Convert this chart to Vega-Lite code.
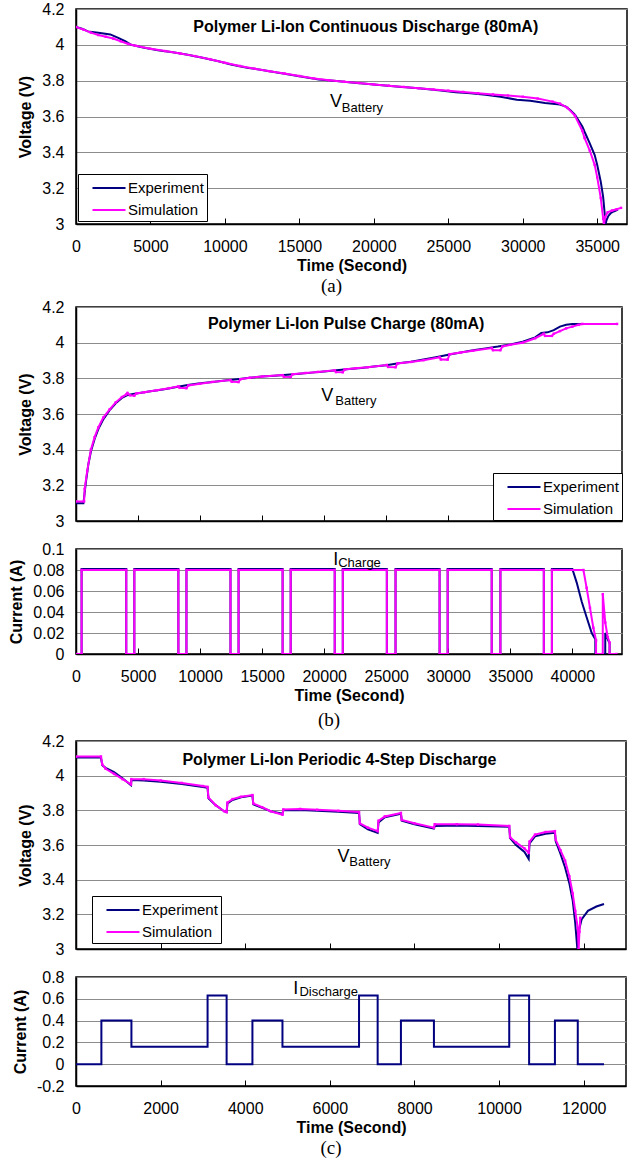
{
  "$schema": "https://vega.github.io/schema/vega-lite/v6.json",
  "padding": {"left": 8, "top": 0, "right": 4, "bottom": 0},
  "background": "white",
  "datasets": {
    "a": [
      {"t":0,"v":4.10,"s":"Experiment"},{"t":400,"v":4.09,"s":"Experiment"},{"t":800,"v":4.075,"s":"Experiment"},{"t":1500,"v":4.068,"s":"Experiment"},{"t":2300,"v":4.058,"s":"Experiment"},{"t":2800,"v":4.04,"s":"Experiment"},{"t":3300,"v":4.02,"s":"Experiment"},{"t":3700,"v":4.0,"s":"Experiment"},{"t":4500,"v":3.985,"s":"Experiment"},{"t":5500,"v":3.97,"s":"Experiment"},{"t":6500,"v":3.958,"s":"Experiment"},{"t":7500,"v":3.945,"s":"Experiment"},{"t":8500,"v":3.928,"s":"Experiment"},{"t":9500,"v":3.91,"s":"Experiment"},{"t":10400,"v":3.89,"s":"Experiment"},{"t":11500,"v":3.872,"s":"Experiment"},{"t":12500,"v":3.86,"s":"Experiment"},{"t":13500,"v":3.845,"s":"Experiment"},{"t":14500,"v":3.832,"s":"Experiment"},{"t":15500,"v":3.818,"s":"Experiment"},{"t":16300,"v":3.806,"s":"Experiment"},{"t":17500,"v":3.798,"s":"Experiment"},{"t":18500,"v":3.79,"s":"Experiment"},{"t":20000,"v":3.778,"s":"Experiment"},{"t":21500,"v":3.768,"s":"Experiment"},{"t":23000,"v":3.757,"s":"Experiment"},{"t":24500,"v":3.745,"s":"Experiment"},{"t":25500,"v":3.735,"s":"Experiment"},{"t":26500,"v":3.73,"s":"Experiment"},{"t":27500,"v":3.722,"s":"Experiment"},{"t":28500,"v":3.71,"s":"Experiment"},{"t":29600,"v":3.694,"s":"Experiment"},{"t":30500,"v":3.688,"s":"Experiment"},{"t":31500,"v":3.675,"s":"Experiment"},{"t":32500,"v":3.667,"s":"Experiment"},{"t":32900,"v":3.655,"s":"Experiment"},{"t":33200,"v":3.635,"s":"Experiment"},{"t":33500,"v":3.61,"s":"Experiment"},{"t":34000,"v":3.545,"s":"Experiment"},{"t":34150,"v":3.515,"s":"Experiment"},{"t":34500,"v":3.45,"s":"Experiment"},{"t":34830,"v":3.385,"s":"Experiment"},{"t":35000,"v":3.33,"s":"Experiment"},{"t":35240,"v":3.235,"s":"Experiment"},{"t":35400,"v":3.15,"s":"Experiment"},{"t":35500,"v":3.06,"s":"Experiment"},{"t":35560,"v":3.0,"s":"Experiment"},{"t":35620,"v":3.02,"s":"Experiment"},{"t":35750,"v":3.045,"s":"Experiment"},{"t":35900,"v":3.06,"s":"Experiment"},{"t":36100,"v":3.07,"s":"Experiment"},{"t":36400,"v":3.08,"s":"Experiment"},
      {"t":0,"v":4.10,"s":"Simulation"},{"t":500,"v":4.085,"s":"Simulation"},{"t":1000,"v":4.068,"s":"Simulation"},{"t":1500,"v":4.055,"s":"Simulation"},{"t":2000,"v":4.045,"s":"Simulation"},{"t":2500,"v":4.035,"s":"Simulation"},{"t":3000,"v":4.02,"s":"Simulation"},{"t":3500,"v":4.005,"s":"Simulation"},{"t":4000,"v":3.995,"s":"Simulation"},{"t":5000,"v":3.978,"s":"Simulation"},{"t":6000,"v":3.965,"s":"Simulation"},{"t":7000,"v":3.952,"s":"Simulation"},{"t":8000,"v":3.937,"s":"Simulation"},{"t":9000,"v":3.92,"s":"Simulation"},{"t":10000,"v":3.9,"s":"Simulation"},{"t":11000,"v":3.882,"s":"Simulation"},{"t":12000,"v":3.867,"s":"Simulation"},{"t":13000,"v":3.853,"s":"Simulation"},{"t":14000,"v":3.84,"s":"Simulation"},{"t":15000,"v":3.826,"s":"Simulation"},{"t":16000,"v":3.812,"s":"Simulation"},{"t":17000,"v":3.802,"s":"Simulation"},{"t":18000,"v":3.794,"s":"Simulation"},{"t":19000,"v":3.787,"s":"Simulation"},{"t":20000,"v":3.779,"s":"Simulation"},{"t":21000,"v":3.772,"s":"Simulation"},{"t":22000,"v":3.765,"s":"Simulation"},{"t":23000,"v":3.758,"s":"Simulation"},{"t":24000,"v":3.751,"s":"Simulation"},{"t":25000,"v":3.744,"s":"Simulation"},{"t":26000,"v":3.737,"s":"Simulation"},{"t":27000,"v":3.73,"s":"Simulation"},{"t":28000,"v":3.723,"s":"Simulation"},{"t":29000,"v":3.717,"s":"Simulation"},{"t":30000,"v":3.71,"s":"Simulation"},{"t":31000,"v":3.7,"s":"Simulation"},{"t":32000,"v":3.683,"s":"Simulation"},{"t":32500,"v":3.672,"s":"Simulation"},{"t":33000,"v":3.648,"s":"Simulation"},{"t":33500,"v":3.605,"s":"Simulation"},{"t":34000,"v":3.52,"s":"Simulation"},{"t":34150,"v":3.48,"s":"Simulation"},{"t":34500,"v":3.41,"s":"Simulation"},{"t":34830,"v":3.33,"s":"Simulation"},{"t":35000,"v":3.26,"s":"Simulation"},{"t":35240,"v":3.145,"s":"Simulation"},{"t":35400,"v":3.03,"s":"Simulation"},{"t":35450,"v":3.0,"s":"Simulation"},{"t":35550,"v":3.04,"s":"Simulation"},{"t":35700,"v":3.065,"s":"Simulation"},{"t":36000,"v":3.075,"s":"Simulation"},{"t":36300,"v":3.082,"s":"Simulation"},{"t":36600,"v":3.09,"s":"Simulation"}
    ],
    "bv": [
      {"t":0,"v":3.10,"s":"Experiment"},{"t":600,"v":3.10,"s":"Experiment"},{"t":650,"v":3.13,"s":"Experiment"},{"t":800,"v":3.22,"s":"Experiment"},{"t":1000,"v":3.32,"s":"Experiment"},{"t":1200,"v":3.39,"s":"Experiment"},{"t":1500,"v":3.46,"s":"Experiment"},{"t":1800,"v":3.515,"s":"Experiment"},{"t":2200,"v":3.57,"s":"Experiment"},{"t":2700,"v":3.62,"s":"Experiment"},{"t":3200,"v":3.66,"s":"Experiment"},{"t":3700,"v":3.69,"s":"Experiment"},{"t":4100,"v":3.705,"s":"Experiment"},{"t":4600,"v":3.712,"s":"Experiment"},{"t":5000,"v":3.716,"s":"Experiment"},{"t":6000,"v":3.727,"s":"Experiment"},{"t":7000,"v":3.738,"s":"Experiment"},{"t":8000,"v":3.75,"s":"Experiment"},{"t":9000,"v":3.762,"s":"Experiment"},{"t":10000,"v":3.772,"s":"Experiment"},{"t":11000,"v":3.78,"s":"Experiment"},{"t":12000,"v":3.788,"s":"Experiment"},{"t":13000,"v":3.795,"s":"Experiment"},{"t":14000,"v":3.803,"s":"Experiment"},{"t":15000,"v":3.81,"s":"Experiment"},{"t":16000,"v":3.815,"s":"Experiment"},{"t":17000,"v":3.82,"s":"Experiment"},{"t":18000,"v":3.826,"s":"Experiment"},{"t":19000,"v":3.832,"s":"Experiment"},{"t":20000,"v":3.838,"s":"Experiment"},{"t":21000,"v":3.845,"s":"Experiment"},{"t":22000,"v":3.852,"s":"Experiment"},{"t":23000,"v":3.858,"s":"Experiment"},{"t":24000,"v":3.866,"s":"Experiment"},{"t":25000,"v":3.874,"s":"Experiment"},{"t":26000,"v":3.884,"s":"Experiment"},{"t":27000,"v":3.893,"s":"Experiment"},{"t":28000,"v":3.905,"s":"Experiment"},{"t":29000,"v":3.918,"s":"Experiment"},{"t":30000,"v":3.932,"s":"Experiment"},{"t":31000,"v":3.945,"s":"Experiment"},{"t":32000,"v":3.957,"s":"Experiment"},{"t":33000,"v":3.968,"s":"Experiment"},{"t":34000,"v":3.978,"s":"Experiment"},{"t":35000,"v":3.99,"s":"Experiment"},{"t":36000,"v":4.005,"s":"Experiment"},{"t":37000,"v":4.03,"s":"Experiment"},{"t":37500,"v":4.055,"s":"Experiment"},{"t":38000,"v":4.058,"s":"Experiment"},{"t":38500,"v":4.07,"s":"Experiment"},{"t":39000,"v":4.09,"s":"Experiment"},{"t":39500,"v":4.10,"s":"Experiment"},{"t":40000,"v":4.105,"s":"Experiment"},{"t":43600,"v":4.105,"s":"Experiment"},
      {"t":0,"v":3.11,"s":"Simulation"},{"t":650,"v":3.11,"s":"Simulation"},{"t":700,"v":3.18,"s":"Simulation"},{"t":900,"v":3.28,"s":"Simulation"},{"t":1200,"v":3.40,"s":"Simulation"},{"t":1500,"v":3.47,"s":"Simulation"},{"t":1800,"v":3.525,"s":"Simulation"},{"t":2200,"v":3.58,"s":"Simulation"},{"t":2700,"v":3.625,"s":"Simulation"},{"t":3200,"v":3.665,"s":"Simulation"},{"t":3700,"v":3.695,"s":"Simulation"},{"t":4050,"v":3.71,"s":"Simulation"},{"t":4150,"v":3.718,"s":"Simulation"},{"t":4350,"v":3.705,"s":"Simulation"},{"t":4700,"v":3.703,"s":"Simulation"},{"t":4850,"v":3.715,"s":"Simulation"},{"t":5500,"v":3.722,"s":"Simulation"},{"t":6500,"v":3.733,"s":"Simulation"},{"t":7500,"v":3.745,"s":"Simulation"},{"t":8250,"v":3.755,"s":"Simulation"},{"t":8350,"v":3.747,"s":"Simulation"},{"t":8900,"v":3.745,"s":"Simulation"},{"t":9050,"v":3.76,"s":"Simulation"},{"t":10000,"v":3.77,"s":"Simulation"},{"t":11000,"v":3.78,"s":"Simulation"},{"t":12450,"v":3.79,"s":"Simulation"},{"t":12550,"v":3.781,"s":"Simulation"},{"t":13100,"v":3.779,"s":"Simulation"},{"t":13250,"v":3.795,"s":"Simulation"},{"t":14000,"v":3.803,"s":"Simulation"},{"t":15000,"v":3.81,"s":"Simulation"},{"t":16650,"v":3.818,"s":"Simulation"},{"t":16750,"v":3.809,"s":"Simulation"},{"t":17300,"v":3.808,"s":"Simulation"},{"t":17450,"v":3.823,"s":"Simulation"},{"t":18500,"v":3.83,"s":"Simulation"},{"t":19500,"v":3.836,"s":"Simulation"},{"t":20850,"v":3.845,"s":"Simulation"},{"t":20950,"v":3.835,"s":"Simulation"},{"t":21500,"v":3.834,"s":"Simulation"},{"t":21650,"v":3.85,"s":"Simulation"},{"t":22500,"v":3.856,"s":"Simulation"},{"t":23500,"v":3.862,"s":"Simulation"},{"t":25050,"v":3.875,"s":"Simulation"},{"t":25150,"v":3.864,"s":"Simulation"},{"t":25750,"v":3.862,"s":"Simulation"},{"t":25900,"v":3.883,"s":"Simulation"},{"t":27000,"v":3.892,"s":"Simulation"},{"t":28000,"v":3.902,"s":"Simulation"},{"t":29300,"v":3.918,"s":"Simulation"},{"t":29400,"v":3.906,"s":"Simulation"},{"t":29950,"v":3.905,"s":"Simulation"},{"t":30100,"v":3.935,"s":"Simulation"},{"t":31000,"v":3.945,"s":"Simulation"},{"t":32000,"v":3.955,"s":"Simulation"},{"t":33500,"v":3.97,"s":"Simulation"},{"t":33600,"v":3.958,"s":"Simulation"},{"t":34200,"v":3.958,"s":"Simulation"},{"t":34350,"v":3.978,"s":"Simulation"},{"t":35000,"v":3.988,"s":"Simulation"},{"t":36000,"v":4.0,"s":"Simulation"},{"t":37000,"v":4.025,"s":"Simulation"},{"t":37700,"v":4.05,"s":"Simulation"},{"t":37800,"v":4.038,"s":"Simulation"},{"t":38350,"v":4.038,"s":"Simulation"},{"t":38500,"v":4.05,"s":"Simulation"},{"t":39000,"v":4.065,"s":"Simulation"},{"t":39500,"v":4.08,"s":"Simulation"},{"t":40000,"v":4.09,"s":"Simulation"},{"t":40500,"v":4.1,"s":"Simulation"},{"t":40800,"v":4.105,"s":"Simulation"},{"t":43600,"v":4.105,"s":"Simulation"}
    ],
    "bc": [
      {"t":0,"v":0,"s":"Experiment"},{"t":450,"v":0,"s":"Experiment"},{"t":451,"v":0.081,"s":"Experiment"},{"t":4050,"v":0.081,"s":"Experiment"},{"t":4051,"v":0,"s":"Experiment"},{"t":4700,"v":0,"s":"Experiment"},{"t":4701,"v":0.081,"s":"Experiment"},{"t":8250,"v":0.081,"s":"Experiment"},{"t":8251,"v":0,"s":"Experiment"},{"t":8900,"v":0,"s":"Experiment"},{"t":8901,"v":0.081,"s":"Experiment"},{"t":12450,"v":0.081,"s":"Experiment"},{"t":12451,"v":0,"s":"Experiment"},{"t":13100,"v":0,"s":"Experiment"},{"t":13101,"v":0.081,"s":"Experiment"},{"t":16650,"v":0.081,"s":"Experiment"},{"t":16651,"v":0,"s":"Experiment"},{"t":17300,"v":0,"s":"Experiment"},{"t":17301,"v":0.081,"s":"Experiment"},{"t":20850,"v":0.081,"s":"Experiment"},{"t":20851,"v":0,"s":"Experiment"},{"t":21500,"v":0,"s":"Experiment"},{"t":21501,"v":0.081,"s":"Experiment"},{"t":25050,"v":0.081,"s":"Experiment"},{"t":25051,"v":0,"s":"Experiment"},{"t":25750,"v":0,"s":"Experiment"},{"t":25751,"v":0.081,"s":"Experiment"},{"t":29300,"v":0.081,"s":"Experiment"},{"t":29301,"v":0,"s":"Experiment"},{"t":29950,"v":0,"s":"Experiment"},{"t":29951,"v":0.081,"s":"Experiment"},{"t":33500,"v":0.081,"s":"Experiment"},{"t":33501,"v":0,"s":"Experiment"},{"t":34200,"v":0,"s":"Experiment"},{"t":34201,"v":0.081,"s":"Experiment"},{"t":37700,"v":0.081,"s":"Experiment"},{"t":37701,"v":0,"s":"Experiment"},{"t":38350,"v":0,"s":"Experiment"},{"t":38351,"v":0.081,"s":"Experiment"},{"t":40000,"v":0.081,"s":"Experiment"},{"t":40350,"v":0.068,"s":"Experiment"},{"t":40750,"v":0.05,"s":"Experiment"},{"t":41150,"v":0.035,"s":"Experiment"},{"t":41560,"v":0.02,"s":"Experiment"},{"t":41850,"v":0.014,"s":"Experiment"},{"t":41851,"v":0,"s":"Experiment"},{"t":42650,"v":0,"s":"Experiment"},{"t":42651,"v":0.02,"s":"Experiment"},{"t":43000,"v":0.01,"s":"Experiment"},{"t":43001,"v":0,"s":"Experiment"},{"t":43550,"v":0,"s":"Experiment"},
      {"t":0,"v":0,"s":"Simulation"},{"t":450,"v":0,"s":"Simulation"},{"t":451,"v":0.08,"s":"Simulation"},{"t":4050,"v":0.08,"s":"Simulation"},{"t":4051,"v":0,"s":"Simulation"},{"t":4700,"v":0,"s":"Simulation"},{"t":4701,"v":0.08,"s":"Simulation"},{"t":8250,"v":0.08,"s":"Simulation"},{"t":8251,"v":0,"s":"Simulation"},{"t":8900,"v":0,"s":"Simulation"},{"t":8901,"v":0.08,"s":"Simulation"},{"t":12450,"v":0.08,"s":"Simulation"},{"t":12451,"v":0,"s":"Simulation"},{"t":13100,"v":0,"s":"Simulation"},{"t":13101,"v":0.08,"s":"Simulation"},{"t":16650,"v":0.08,"s":"Simulation"},{"t":16651,"v":0,"s":"Simulation"},{"t":17300,"v":0,"s":"Simulation"},{"t":17301,"v":0.08,"s":"Simulation"},{"t":20850,"v":0.08,"s":"Simulation"},{"t":20851,"v":0,"s":"Simulation"},{"t":21500,"v":0,"s":"Simulation"},{"t":21501,"v":0.08,"s":"Simulation"},{"t":25050,"v":0.08,"s":"Simulation"},{"t":25051,"v":0,"s":"Simulation"},{"t":25750,"v":0,"s":"Simulation"},{"t":25751,"v":0.08,"s":"Simulation"},{"t":29300,"v":0.08,"s":"Simulation"},{"t":29301,"v":0,"s":"Simulation"},{"t":29950,"v":0,"s":"Simulation"},{"t":29951,"v":0.08,"s":"Simulation"},{"t":33500,"v":0.08,"s":"Simulation"},{"t":33501,"v":0,"s":"Simulation"},{"t":34200,"v":0,"s":"Simulation"},{"t":34201,"v":0.08,"s":"Simulation"},{"t":37700,"v":0.08,"s":"Simulation"},{"t":37701,"v":0,"s":"Simulation"},{"t":38350,"v":0,"s":"Simulation"},{"t":38351,"v":0.08,"s":"Simulation"},{"t":40890,"v":0.08,"s":"Simulation"},{"t":41150,"v":0.063,"s":"Simulation"},{"t":41420,"v":0.044,"s":"Simulation"},{"t":41690,"v":0.025,"s":"Simulation"},{"t":41910,"v":0.013,"s":"Simulation"},{"t":41911,"v":0,"s":"Simulation"},{"t":42450,"v":0,"s":"Simulation"},{"t":42451,"v":0.057,"s":"Simulation"},{"t":42650,"v":0.03,"s":"Simulation"},{"t":42850,"v":0.016,"s":"Simulation"},{"t":43000,"v":0.011,"s":"Simulation"},{"t":43001,"v":0,"s":"Simulation"},{"t":43550,"v":0,"s":"Simulation"}
    ],
    "cv": [
      {"t":0,"v":4.105,"s":"Experiment"},{"t":590,"v":4.105,"s":"Experiment"},{"t":620,"v":4.06,"s":"Experiment"},{"t":700,"v":4.045,"s":"Experiment"},{"t":900,"v":4.02,"s":"Experiment"},{"t":1100,"v":3.985,"s":"Experiment"},{"t":1300,"v":3.945,"s":"Experiment"},{"t":1310,"v":3.975,"s":"Experiment"},{"t":1600,"v":3.972,"s":"Experiment"},{"t":2000,"v":3.965,"s":"Experiment"},{"t":2500,"v":3.952,"s":"Experiment"},{"t":3000,"v":3.935,"s":"Experiment"},{"t":3110,"v":3.93,"s":"Experiment"},{"t":3130,"v":3.87,"s":"Experiment"},{"t":3300,"v":3.83,"s":"Experiment"},{"t":3500,"v":3.795,"s":"Experiment"},{"t":3560,"v":3.79,"s":"Experiment"},{"t":3580,"v":3.84,"s":"Experiment"},{"t":3700,"v":3.86,"s":"Experiment"},{"t":3900,"v":3.875,"s":"Experiment"},{"t":4170,"v":3.885,"s":"Experiment"},{"t":4190,"v":3.835,"s":"Experiment"},{"t":4400,"v":3.815,"s":"Experiment"},{"t":4600,"v":3.795,"s":"Experiment"},{"t":4880,"v":3.78,"s":"Experiment"},{"t":4900,"v":3.80,"s":"Experiment"},{"t":5300,"v":3.802,"s":"Experiment"},{"t":5700,"v":3.798,"s":"Experiment"},{"t":6200,"v":3.792,"s":"Experiment"},{"t":6690,"v":3.785,"s":"Experiment"},{"t":6710,"v":3.72,"s":"Experiment"},{"t":6900,"v":3.69,"s":"Experiment"},{"t":7130,"v":3.67,"s":"Experiment"},{"t":7150,"v":3.73,"s":"Experiment"},{"t":7300,"v":3.76,"s":"Experiment"},{"t":7680,"v":3.78,"s":"Experiment"},{"t":7700,"v":3.74,"s":"Experiment"},{"t":8000,"v":3.72,"s":"Experiment"},{"t":8460,"v":3.695,"s":"Experiment"},{"t":8480,"v":3.71,"s":"Experiment"},{"t":9000,"v":3.712,"s":"Experiment"},{"t":9500,"v":3.71,"s":"Experiment"},{"t":10240,"v":3.705,"s":"Experiment"},{"t":10260,"v":3.64,"s":"Experiment"},{"t":10400,"v":3.6,"s":"Experiment"},{"t":10600,"v":3.56,"s":"Experiment"},{"t":10700,"v":3.52,"s":"Experiment"},{"t":10720,"v":3.61,"s":"Experiment"},{"t":10850,"v":3.65,"s":"Experiment"},{"t":11100,"v":3.665,"s":"Experiment"},{"t":11320,"v":3.67,"s":"Experiment"},{"t":11340,"v":3.62,"s":"Experiment"},{"t":11450,"v":3.55,"s":"Experiment"},{"t":11560,"v":3.47,"s":"Experiment"},{"t":11660,"v":3.38,"s":"Experiment"},{"t":11740,"v":3.28,"s":"Experiment"},{"t":11800,"v":3.15,"s":"Experiment"},{"t":11850,"v":3.0,"s":"Experiment"},{"t":11880,"v":3.1,"s":"Experiment"},{"t":11950,"v":3.17,"s":"Experiment"},{"t":12100,"v":3.22,"s":"Experiment"},{"t":12300,"v":3.245,"s":"Experiment"},{"t":12480,"v":3.26,"s":"Experiment"},
      {"t":0,"v":4.11,"s":"Simulation"},{"t":590,"v":4.11,"s":"Simulation"},{"t":620,"v":4.065,"s":"Simulation"},{"t":700,"v":4.04,"s":"Simulation"},{"t":900,"v":4.01,"s":"Simulation"},{"t":1100,"v":3.98,"s":"Simulation"},{"t":1300,"v":3.95,"s":"Simulation"},{"t":1310,"v":3.98,"s":"Simulation"},{"t":1600,"v":3.98,"s":"Simulation"},{"t":2000,"v":3.972,"s":"Simulation"},{"t":2500,"v":3.958,"s":"Simulation"},{"t":3000,"v":3.94,"s":"Simulation"},{"t":3110,"v":3.935,"s":"Simulation"},{"t":3130,"v":3.875,"s":"Simulation"},{"t":3300,"v":3.83,"s":"Simulation"},{"t":3500,"v":3.795,"s":"Simulation"},{"t":3560,"v":3.79,"s":"Simulation"},{"t":3580,"v":3.845,"s":"Simulation"},{"t":3700,"v":3.865,"s":"Simulation"},{"t":3900,"v":3.878,"s":"Simulation"},{"t":4170,"v":3.888,"s":"Simulation"},{"t":4190,"v":3.84,"s":"Simulation"},{"t":4400,"v":3.818,"s":"Simulation"},{"t":4600,"v":3.795,"s":"Simulation"},{"t":4880,"v":3.775,"s":"Simulation"},{"t":4900,"v":3.805,"s":"Simulation"},{"t":5300,"v":3.808,"s":"Simulation"},{"t":5700,"v":3.803,"s":"Simulation"},{"t":6200,"v":3.797,"s":"Simulation"},{"t":6690,"v":3.79,"s":"Simulation"},{"t":6710,"v":3.725,"s":"Simulation"},{"t":6900,"v":3.7,"s":"Simulation"},{"t":7130,"v":3.68,"s":"Simulation"},{"t":7150,"v":3.74,"s":"Simulation"},{"t":7300,"v":3.765,"s":"Simulation"},{"t":7680,"v":3.785,"s":"Simulation"},{"t":7700,"v":3.745,"s":"Simulation"},{"t":8000,"v":3.725,"s":"Simulation"},{"t":8460,"v":3.7,"s":"Simulation"},{"t":8480,"v":3.72,"s":"Simulation"},{"t":9000,"v":3.72,"s":"Simulation"},{"t":9500,"v":3.718,"s":"Simulation"},{"t":10240,"v":3.71,"s":"Simulation"},{"t":10260,"v":3.645,"s":"Simulation"},{"t":10400,"v":3.615,"s":"Simulation"},{"t":10600,"v":3.58,"s":"Simulation"},{"t":10700,"v":3.555,"s":"Simulation"},{"t":10720,"v":3.62,"s":"Simulation"},{"t":10850,"v":3.66,"s":"Simulation"},{"t":11100,"v":3.675,"s":"Simulation"},{"t":11320,"v":3.68,"s":"Simulation"},{"t":11340,"v":3.63,"s":"Simulation"},{"t":11450,"v":3.57,"s":"Simulation"},{"t":11560,"v":3.51,"s":"Simulation"},{"t":11660,"v":3.42,"s":"Simulation"},{"t":11740,"v":3.32,"s":"Simulation"},{"t":11800,"v":3.22,"s":"Simulation"},{"t":11860,"v":3.12,"s":"Simulation"},{"t":11880,"v":3.0,"s":"Simulation"},{"t":11900,"v":3.1,"s":"Simulation"},{"t":11920,"v":3.18,"s":"Simulation"}
    ],
    "cc": [
      {"t":0,"v":0},{"t":600,"v":0.4},{"t":1310,"v":0.16},{"t":3110,"v":0.63},{"t":3560,"v":0},{"t":4170,"v":0.4},{"t":4880,"v":0.16},{"t":6690,"v":0.63},{"t":7130,"v":0},{"t":7680,"v":0.4},{"t":8460,"v":0.16},{"t":10240,"v":0.63},{"t":10710,"v":0},{"t":11320,"v":0.4},{"t":11860,"v":0},{"t":12480,"v":0}
    ]
  },
  "config": {
    "font": "Liberation Sans",
    "view": {"stroke": "black", "strokeWidth": 1.5},
    "axis": {"labelFont": "Liberation Sans", "labelFontSize": 16, "labelColor": "black", "titleFont": "Liberation Sans", "titleFontSize": 16, "titleFontWeight": "bold", "titleColor": "black", "domainColor": "black", "domainWidth": 1.5, "tickColor": "black", "gridColor": "#8c8c8c", "gridWidth": 1.2},
    "axisX": {"grid": false, "ticks": true, "tickSize": -6, "tickWidth": 1, "labelPadding": 20, "titlePadding": 3, "labelFlush": false},
    "axisY": {"grid": true, "ticks": false, "labelPadding": 12, "titlePadding": 8},
    "legend": {"labelFont": "Liberation Sans", "labelFontSize": 15, "labelColor": "black", "symbolType": "M-1.65,0H1.65", "symbolSize": 400, "symbolStrokeWidth": 2, "strokeColor": "black", "fillColor": "white", "padding": 3, "rowPadding": 3, "symbolOffset": 17, "labelOffset": 8},
    "title": {"font": "Liberation Serif", "fontSize": 19, "fontWeight": "normal", "color": "black", "orient": "bottom", "anchor": "middle", "frame": "group", "offset": 4, "dx": -20}
  },
  "spacing": 1,
  "resolve": {"scale": {"x": "independent", "y": "independent", "color": "independent"}, "legend": {"color": "independent"}},
  "vconcat": [
    {
      "width": 551, "height": 215,
      "title": {"text": "(a)"},
      "encoding": {
        "x": {"field": "t", "type": "quantitative", "scale": {"domain": [0, 37000], "nice": false, "zero": false}, "axis": {"values": [0,5000,10000,15000,20000,25000,30000,35000], "format": "d", "title": "Time (Second)"}},
        "y": {"field": "v", "type": "quantitative", "scale": {"domain": [3, 4.2], "nice": false, "zero": false}, "axis": {"values": [3,3.2,3.4,3.6,3.8,4,4.2], "format": "~g", "title": "Voltage (V)"}}
      },
      "layer": [
        {"data": {"name": "a"}, "mark": {"type": "line", "strokeWidth": 2, "clip": true},
         "encoding": {"color": {"field": "s", "type": "nominal", "scale": {"domain": ["Experiment", "Simulation"], "range": ["#000080", "#ff00ff"]}, "legend": {"title": null, "orient": "none", "legendX": 2, "legendY": 165}}}},
        {"data": {"name": "a"}, "transform": [{"filter": "datum.s === 'Simulation'"}], "mark": {"type": "point", "shape": "square", "size": 6, "filled": true, "color": "#ff00ff", "opacity": 1, "clip": true}},
        {"data": {"values": [{"t": 19460, "v": 4.10, "label": "Polymer Li-Ion Continuous Discharge (80mA)"}]}, "mark": {"type": "text", "fontSize": 16, "fontWeight": "bold", "align": "center", "baseline": "middle", "color": "black"}, "encoding": {"text": {"field": "label"}}},
        {"data": {"values": [{"t": 17050, "v": 3.68, "label": "V"}]}, "mark": {"type": "text", "fontSize": 18, "align": "left", "baseline": "middle", "color": "black"}, "encoding": {"text": {"field": "label"}}},
        {"data": {"values": [{"t": 17850, "v": 3.645, "label": "Battery"}]}, "mark": {"type": "text", "fontSize": 13, "align": "left", "baseline": "middle", "color": "black"}, "encoding": {"text": {"field": "label"}}}
      ]
    },
    {
      "spacing": 10,
      "resolve": {"scale": {"x": "independent", "y": "independent", "color": "independent"}, "legend": {"color": "independent"}},
      "vconcat": [
        {
          "width": 546, "height": 214,
          "encoding": {
            "x": {"field": "t", "type": "quantitative", "scale": {"domain": [0, 44000], "nice": false, "zero": false}, "axis": {"values": [0,5000,10000,15000,20000,25000,30000,35000,40000], "labels": false, "title": null}},
            "y": {"field": "v", "type": "quantitative", "scale": {"domain": [3, 4.2], "nice": false, "zero": false}, "axis": {"values": [3,3.2,3.4,3.6,3.8,4,4.2], "format": "~g", "title": "Voltage (V)"}}
          },
          "layer": [
            {"data": {"name": "bv"}, "mark": {"type": "line", "strokeWidth": 2, "clip": true},
             "encoding": {"color": {"field": "s", "type": "nominal", "scale": {"domain": ["Experiment", "Simulation"], "range": ["#000080", "#ff00ff"]}, "legend": {"title": null, "orient": "none", "legendX": 417, "legendY": 166}}}},
            {"data": {"name": "bv"}, "transform": [{"filter": "datum.s === 'Simulation'"}], "mark": {"type": "point", "shape": "square", "size": 6, "filled": true, "color": "#ff00ff", "opacity": 1, "clip": true}},
            {"data": {"values": [{"t": 21770, "v": 4.105, "label": "Polymer Li-Ion Pulse Charge (80mA)"}]}, "mark": {"type": "text", "fontSize": 16, "fontWeight": "bold", "align": "center", "baseline": "middle", "color": "black"}, "encoding": {"text": {"field": "label"}}},
            {"data": {"values": [{"t": 19760, "v": 3.70, "label": "V"}]}, "mark": {"type": "text", "fontSize": 18, "align": "left", "baseline": "middle", "color": "black"}, "encoding": {"text": {"field": "label"}}},
            {"data": {"values": [{"t": 20890, "v": 3.675, "label": "Battery"}]}, "mark": {"type": "text", "fontSize": 13, "align": "left", "baseline": "middle", "color": "black"}, "encoding": {"text": {"field": "label"}}}
          ]
        },
        {
          "width": 546, "height": 105,
          "title": {"text": "(b)", "offset": 8},
          "encoding": {
            "x": {"field": "t", "type": "quantitative", "scale": {"domain": [0, 44000], "nice": false, "zero": false}, "axis": {"values": [0,5000,10000,15000,20000,25000,30000,35000,40000], "format": "d", "title": "Time (Second)"}},
            "y": {"field": "v", "type": "quantitative", "scale": {"domain": [0, 0.1], "nice": false, "zero": false}, "axis": {"values": [0,0.02,0.04,0.06,0.08,0.1], "format": "~g", "title": "Current (A)"}}
          },
          "layer": [
            {"data": {"name": "bc"}, "mark": {"type": "line", "strokeWidth": 2, "clip": true},
             "encoding": {"color": {"field": "s", "type": "nominal", "scale": {"domain": ["Experiment", "Simulation"], "range": ["#000080", "#ff00ff"]}, "legend": null}}},
            {"data": {"name": "bc"}, "transform": [{"filter": "datum.s === 'Simulation'"}], "mark": {"type": "point", "shape": "square", "size": 6, "filled": true, "color": "#ff00ff", "opacity": 1, "clip": true}},
            {"data": {"values": [{"t": 20730, "v": 0.0895, "label": "I"}]}, "mark": {"type": "text", "fontSize": 18, "align": "left", "baseline": "middle", "color": "black"}, "encoding": {"text": {"field": "label"}}},
            {"data": {"values": [{"t": 21130, "v": 0.0867, "label": "Charge"}]}, "mark": {"type": "text", "fontSize": 13, "align": "left", "baseline": "middle", "color": "black"}, "encoding": {"text": {"field": "label"}}}
          ]
        }
      ]
    },
    {
      "spacing": 10,
      "resolve": {"scale": {"x": "independent", "y": "independent", "color": "independent"}, "legend": {"color": "independent"}},
      "vconcat": [
        {
          "width": 550, "height": 208,
          "encoding": {
            "x": {"field": "t", "type": "quantitative", "scale": {"domain": [0, 13000], "nice": false, "zero": false}, "axis": {"values": [0,2000,4000,6000,8000,10000,12000], "labels": false, "title": null}},
            "y": {"field": "v", "type": "quantitative", "scale": {"domain": [3, 4.2], "nice": false, "zero": false}, "axis": {"values": [3,3.2,3.4,3.6,3.8,4,4.2], "format": "~g", "title": "Voltage (V)"}}
          },
          "layer": [
            {"data": {"name": "cv"}, "mark": {"type": "line", "strokeWidth": 2, "clip": true},
             "encoding": {"color": {"field": "s", "type": "nominal", "scale": {"domain": ["Experiment", "Simulation"], "range": ["#000080", "#ff00ff"]}, "legend": {"title": null, "orient": "none", "legendX": 16, "legendY": 155}}}},
            {"data": {"name": "cv"}, "transform": [{"filter": "datum.s === 'Simulation'"}], "mark": {"type": "point", "shape": "square", "size": 6, "filled": true, "color": "#ff00ff", "opacity": 1, "clip": true}},
            {"data": {"values": [{"t": 6225, "v": 4.09, "label": "Polymer Li-Ion Periodic 4-Step Discharge"}]}, "mark": {"type": "text", "fontSize": 16, "fontWeight": "bold", "align": "center", "baseline": "middle", "color": "black"}, "encoding": {"text": {"field": "label"}}},
            {"data": {"values": [{"t": 6180, "v": 3.53, "label": "V"}]}, "mark": {"type": "text", "fontSize": 18, "align": "left", "baseline": "middle", "color": "black"}, "encoding": {"text": {"field": "label"}}},
            {"data": {"values": [{"t": 6460, "v": 3.50, "label": "Battery"}]}, "mark": {"type": "text", "fontSize": 13, "align": "left", "baseline": "middle", "color": "black"}, "encoding": {"text": {"field": "label"}}}
          ]
        },
        {
          "width": 550, "height": 109,
          "title": {"text": "(c)"},
          "encoding": {
            "x": {"field": "t", "type": "quantitative", "scale": {"domain": [0, 13000], "nice": false, "zero": false}, "axis": {"values": [0,2000,4000,6000,8000,10000,12000], "format": "d", "title": "Time (Second)"}},
            "y": {"field": "v", "type": "quantitative", "scale": {"domain": [-0.2, 0.8], "nice": false, "zero": false}, "axis": {"values": [-0.2,0,0.2,0.4,0.6,0.8], "format": "~g", "labelExpr": "replace(datum.label, '\u2212', '-')", "title": "Current (A)"}}
          },
          "layer": [
            {"data": {"name": "cc"}, "mark": {"type": "line", "interpolate": "step-after", "strokeWidth": 2, "color": "#000080", "clip": true}},
            {"data": {"values": [{"t": 5136, "v": 0.69, "label": "I"}]}, "mark": {"type": "text", "fontSize": 18, "align": "left", "baseline": "middle", "color": "black"}, "encoding": {"text": {"field": "label"}}},
            {"data": {"values": [{"t": 5280, "v": 0.662, "label": "Discharge"}]}, "mark": {"type": "text", "fontSize": 13, "align": "left", "baseline": "middle", "color": "black"}, "encoding": {"text": {"field": "label"}}}
          ]
        }
      ]
    }
  ]
}
